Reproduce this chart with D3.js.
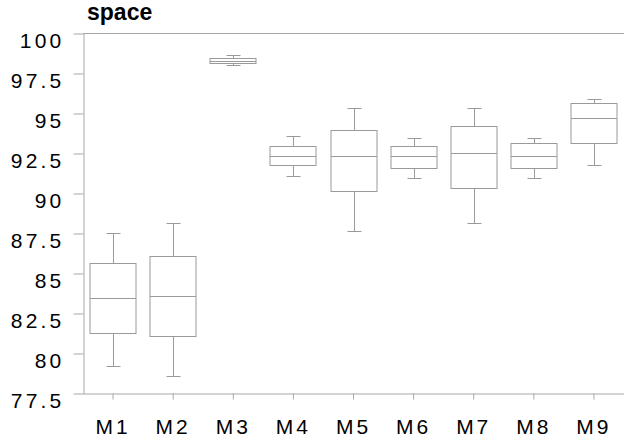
<!DOCTYPE html>
<html>
<head>
<meta charset="utf-8">
<script src="https://cdn.jsdelivr.net/npm/d3@7"></script>
<style>
  body { margin: 0; background: #fff; }
  text { font-family: "Liberation Sans", Arial, sans-serif; }
</style>
</head>
<body>
<svg id="chart" width="624" height="440"></svg>
<script>
// data
var models = ["M1", "M2", "M3", "M4", "M5", "M6", "M7", "M8", "M9"];
var lowWhisker = [79.2, 78.55, 97.98, 91.05, 87.65, 90.92, 88.1, 90.92, 91.72];
var q1 = [81.22, 81.05, 98.1, 91.72, 90.12, 91.55, 90.3, 91.55, 93.1];
var medians = [83.42, 83.55, 98.27, 92.33, 92.33, 92.33, 92.48, 92.33, 94.68];
var q3 = [85.6, 86.05, 98.42, 92.95, 93.93, 92.95, 94.18, 93.1, 95.6];
var highWhisker = [87.48, 88.1, 98.6, 93.56, 95.3, 93.42, 95.3, 93.42, 95.9];
var yTicks = [77.5, 80, 82.5, 85, 87.5, 90, 92.5, 95, 97.5, 100];

var svg = d3.select("#chart");
var plotLeft = 83, plotRight = 624, plotTop = 33, plotBottom = 393;

var x = d3.scaleBand().domain(models).range([plotLeft, plotRight]).padding(0);
var y = d3.scaleLinear().domain([77.5, 100]).range([plotBottom, plotTop]);

var lineColour = "#9a9a9a", axisColour = "#a8a8a8";

var boxes = models.map(function(m, i) {
    return { name: m, lo: lowWhisker[i], q1: q1[i], med: medians[i], q3: q3[i], hi: highWhisker[i] };
});

// top border line
svg.append("line")
    .attr("x1", plotLeft).attr("x2", plotRight)
    .attr("y1", Math.round(y(100)) + 0.5).attr("y2", Math.round(y(100)) + 0.5)
    .attr("stroke", axisColour);

// axes
var yAxis = svg.append("g")
    .attr("transform", "translate(" + (plotLeft + 0.5) + ",0.5)")
    .call(d3.axisLeft(y).tickValues(yTicks).tickSize(10).tickSizeOuter(0).tickPadding(9)
        .tickFormat(function(d) { return d3.format("")(d); }));
yAxis.selectAll("text")
    .attr("dy", "0.67em")
    .style("font-size", "21px")
    .style("letter-spacing", "3.2px")
    .attr("fill", "#000");

var xAxis = svg.append("g")
    .attr("transform", "translate(0," + (plotBottom + 0.5) + ")")
    .call(d3.axisBottom(x).tickSize(6).tickSizeOuter(0));
xAxis.selectAll("text")
    .attr("y", 40).attr("dy", 0)
    .style("font-size", "21px")
    .style("letter-spacing", "3px")
    .attr("fill", "#000");
svg.selectAll(".domain, .tick line").attr("stroke", axisColour);

// boxes
var bw = x.bandwidth() * 0.766, cap = 14;
var g = svg.append("g").attr("stroke", lineColour).attr("fill", "none");
var box = g.selectAll("g.box").data(boxes).enter().append("g").attr("class", "box");

function cx(d) { return Math.round(x(d.name) + x.bandwidth() / 2) + 0.5; }
function py(v) { return Math.round(y(v)) + 0.5; }

box.append("line")
    .attr("x1", cx).attr("x2", cx)
    .attr("y1", function(d) { return py(d.q3); })
    .attr("y2", function(d) { return py(d.hi); });
box.append("line")
    .attr("x1", cx).attr("x2", cx)
    .attr("y1", function(d) { return py(d.q1); })
    .attr("y2", function(d) { return py(d.lo); });
box.append("line")
    .attr("x1", function(d) { return cx(d) - cap / 2; })
    .attr("x2", function(d) { return cx(d) + cap / 2; })
    .attr("y1", function(d) { return py(d.hi); })
    .attr("y2", function(d) { return py(d.hi); });
box.append("line")
    .attr("x1", function(d) { return cx(d) - cap / 2; })
    .attr("x2", function(d) { return cx(d) + cap / 2; })
    .attr("y1", function(d) { return py(d.lo); })
    .attr("y2", function(d) { return py(d.lo); });
box.append("rect")
    .attr("x", function(d) { return Math.round(cx(d) - bw / 2); })
    .attr("width", Math.round(bw))
    .attr("y", function(d) { return py(d.q3); })
    .attr("height", function(d) { return py(d.q1) - py(d.q3); })
    .attr("fill", "#fff");
box.append("line")
    .attr("x1", function(d) { return Math.round(cx(d) - bw / 2); })
    .attr("x2", function(d) { return Math.round(cx(d) - bw / 2) + Math.round(bw); })
    .attr("y1", function(d) { return py(d.med); })
    .attr("y2", function(d) { return py(d.med); });

// title
svg.append("text")
    .attr("x", 87).attr("y", 20)
    .style("font-size", "23px")
    .style("font-weight", "bold")
    .text("space");
</script>
</body>
</html>
